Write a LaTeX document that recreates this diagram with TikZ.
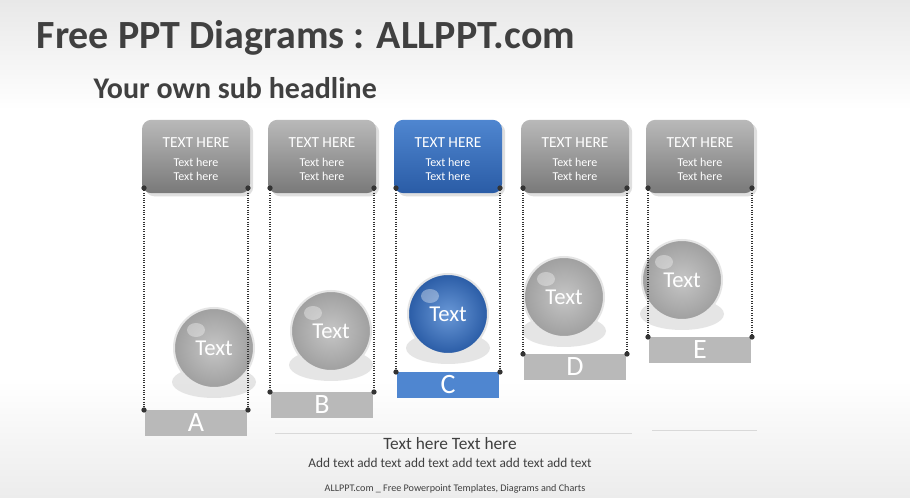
\documentclass[tikz,border=0pt]{standalone}
\usepackage{fontspec}
\setmainfont{Carlito}
\usetikzlibrary{shadows}
\definecolor{tgray}{HTML}{404040}
\definecolor{bluetop}{HTML}{4F86D0}
\definecolor{bluebot}{HTML}{2A5CA6}
\begin{document}
\begin{tikzpicture}[x=0.75pt,y=-0.75pt,
  card/.style={rounded corners=7pt,minimum width=81pt,minimum height=55pt,inner sep=0pt,top color=gray!55,bottom color=gray!95!black,draw=none,drop shadow={opacity=0.25}},
  bcard/.style={card,top color=bluetop,bottom color=bluebot},
  lab/.style={minimum width=77pt,minimum height=19pt,inner sep=0pt,fill=gray!55,text=white,font=\fontsize{21}{21}\selectfont},
  blab/.style={lab,fill=bluetop},
  ball/.style={circle,minimum size=60pt,inner sep=0pt,draw=gray!20,line width=1.5pt,inner color=gray!45,outer color=gray!75,text=white,font=\fontsize{17}{17}\selectfont},
  bball/.style={ball,inner color=bluetop!85,outer color=bluebot},
  dline/.style={densely dotted,thick,black!80},
  dotm/.style={circle,fill=black!80,inner sep=1.4pt}]
\shade[top color=gray!18,bottom color=white] (0,0) rectangle (910,110);
\fill[white] (0,110) rectangle (910,380);
\shade[top color=white,bottom color=gray!15] (0,380) rectangle (910,498);
\useasboundingbox (0,0) rectangle (910,498);
\node[anchor=west,font=\bfseries\fontsize{30}{30}\selectfont,text=tgray] (title) at (32,38) {Free PPT Diagrams : ALLPPT.com};
\node[anchor=west,font=\bfseries\fontsize{22.5}{22}\selectfont,text=tgray] (sub) at (89,88) {Your own sub headline};
\foreach \n/\cx/\ly/\sx/\sy/\L/\bl in {a/196/410/214/348/A/0,b/322/392/331/331/B/0,c/448/372/448/314/C/1,d/575/354/564/297/D/0,e/700/337/682/280/E/0}{
  \ifnum\bl=1
    \node[bcard] (card\n) at (\cx,156.5) {};
    \node[blab,anchor=north] (lab\n) at (\cx,\ly) {\L};
  \else
    \node[card] (card\n) at (\cx,156.5) {};
    \node[lab,anchor=north] (lab\n) at (\cx,\ly) {\L};
  \fi
  \node[text=white,align=center,font=\fontsize{11.5}{12}\selectfont] (h\n) at (\cx,143) {TEXT HERE};
  \node[text=white,align=center,font=\fontsize{9}{10.5}\selectfont] (t\n) at (\cx,169) {Text here\\Text here};
  \fill[gray!40,opacity=0.5] (\sx,\sy+34) ellipse (42 and 16);
  \ifnum\bl=1
    \node[bball] (ball\n) at (\sx,\sy) {Text};
  \else
    \node[ball] (ball\n) at (\sx,\sy) {Text};
  \fi
  \fill[white,opacity=0.35] (\sx-18,\sy-18) ellipse (9 and 7);
  \coordinate (tl\n) at (\cx-52,188);
  \coordinate (tr\n) at (\cx+52,188);
  \coordinate (bl\n) at (\cx-52,\ly);
  \coordinate (br\n) at (\cx+52,\ly);
  \draw[dline] (tl\n) -- (bl\n);
  \draw[dline] (tr\n) -- (br\n);
  \foreach \p in {tl,tr,bl,br} \node[dotm] at (\p\n) {};
}
\draw[gray!30] (275,433) -- (632,433);
\draw[gray!30] (652,430) -- (757,430);
\node[text=tgray,font=\fontsize{13}{13}\selectfont] (m1) at (450,444) {Text here Text here};
\node[text=tgray,font=\fontsize{10}{11}\selectfont] (m2) at (450,463) {Add text add text add text add text add text add text};
\node[text=tgray,font=\fontsize{7.6}{8}\selectfont] (f) at (455,489) {ALLPPT.com \_ Free Powerpoint Templates, Diagrams and Charts};
\end{tikzpicture}
\end{document}
